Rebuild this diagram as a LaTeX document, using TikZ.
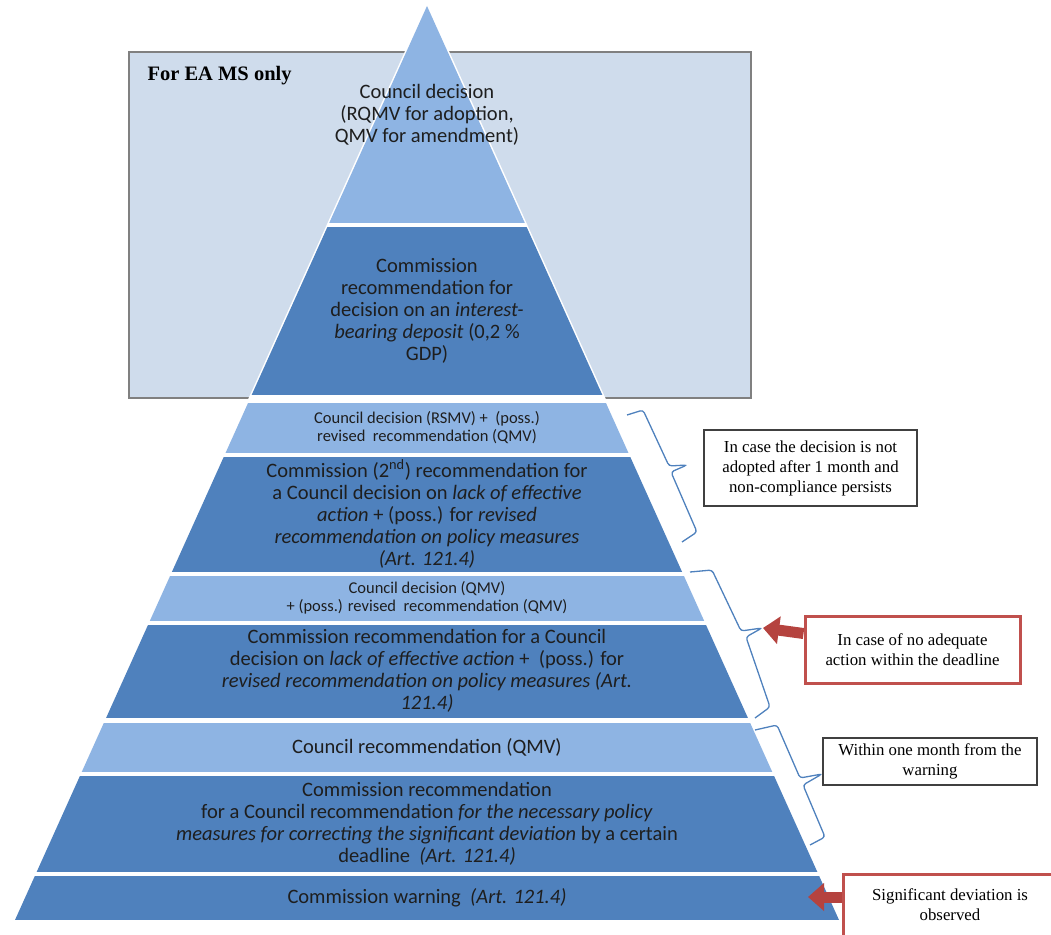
\documentclass[tikz,border=0pt]{standalone}
\usepackage{fontspec}
\setmainfont{Carlito}
\newfontfamily\notefont{Liberation Serif}
\usetikzlibrary{arrows.meta,calc}

\definecolor{tierlight}{HTML}{8EB4E3}
\definecolor{tierdark}{HTML}{4F81BD}
\definecolor{eafill}{HTML}{CFDCEC}
\definecolor{bracecol}{HTML}{4F81BD}
\definecolor{notered}{HTML}{C0504D}
\definecolor{arrowred}{HTML}{B5433F}
\definecolor{textgray}{HTML}{1E1E1E}

\tikzset{
	tiertext/.style={align=center, text=textgray, inner sep=0pt, font=\fontsize{20.5}{22}\selectfont},
	tiersmall/.style={tiertext, font=\fontsize{16.5}{18}\selectfont},
	notebox/.style={draw=black!75, line width=1.2pt, fill=white, align=center, inner sep=0pt,
		font=\notefont\fontsize{16.8}{20}\selectfont},
	alertbox/.style={notebox, draw=notered, line width=3pt},
	bracket/.style={draw=bracecol, line width=1.3pt, rounded corners=3pt},
	alertarrow/.style={draw=arrowred, line width=11pt, -{Triangle[length=16pt,width=27pt]}},
}

\begin{document}
\begin{tikzpicture}[x=1pt,y=-1pt]
			\useasboundingbox (0,0) rectangle (1051,934);
			
			% euro area frame
			\draw[draw=black!50, line width=1.5pt, fill=eafill] (129,52) rectangle (751,398);
			\node[anchor=base west, font=\notefont\bfseries\fontsize{20.5}{22}\selectfont] (ealabel) at (144,80) {For EA MS only};
			
			% pyramid
			\coordinate (apex) at (427,6);
			\coordinate (baseL) at (15,920);
			\coordinate (baseR) at (839,920);
			\draw[white, line width=3pt, fill=white] (apex) -- (baseL) -- (baseR) -- cycle;
			\begin{scope}
				\clip (apex) -- (baseL) -- (baseR) -- cycle;
				\fill[tierlight] (0,0) rectangle (1051,223);
				\fill[tierdark] (0,227) rectangle (1051,395);
				\fill[tierlight] (0,403) rectangle (1051,453);
				\fill[tierdark] (0,457) rectangle (1051,572);
				\fill[tierlight] (0,576) rectangle (1051,621);
				\fill[tierdark] (0,625) rectangle (1051,718);
				\fill[tierlight] (0,723) rectangle (1051,772);
				\fill[tierdark] (0,776) rectangle (1051,872);
				\fill[tierdark] (0,876) rectangle (1051,920);
			\end{scope}
			
			\node[tiertext] (decideEA) at (427,115) {Council decision\\(RQMV for adoption,\\QMV for amendment)};
			\node[tiertext] (recommendEA) at (427,311) {Commission\\recommendation for\\decision on an \textit{interest-}\\\textit{bearing deposit} (0,2 \%\\GDP)};
			\node[tiersmall] (decideLate) at (427,428) {Council decision (RSMV) +~ (poss.)\\revised~ recommendation (QMV)};
			\node[tiertext] (recommendLate) at (427,514) {Commission (2\textsuperscript{nd}) recommendation for\\a Council decision on \textit{lack of effective}\\\textit{action} + (poss.) for \textit{revised}\\\textit{recommendation on policy measures}\\\textit{(Art. 121.4)}};
			\node[tiersmall] (decideQMV) at (427,598) {Council decision (QMV)\\+ (poss.) revised~ recommendation (QMV)};
			\node[tiertext] (recommendLack) at (427,671) {Commission recommendation for a Council\\decision on \textit{lack of effective action} +~ (poss.) for\\\textit{revised recommendation on policy measures (Art.}\\\textit{121.4)}};
			\node[tiertext] (recommendCouncil) at (427,747) {Council recommendation (QMV)};
			\node[tiertext] (recommendMeasures) at (427,824) {Commission recommendation\\for a Council recommendation \textit{for the necessary policy}\\\textit{measures for correcting the significant deviation} by a certain\\deadline~ \textit{(Art. 121.4)}};
			\node[tiertext] (warning) at (427,898) {Commission warning~ \textit{(Art. 121.4)}};
			
			% braces along the right edge
			\draw[bracket] (627,415) -- (643,410) -- (669,466) -- (687,465) -- (671,472) -- (697,532) -- (682,542);
			\draw[bracket] (690,572) -- (712,570) -- (741,631) -- (762,628) -- (746,637) -- (770,707) -- (755,718);
			\draw[bracket] (755,730) -- (777,725) -- (800,778) -- (822,774) -- (803,785) -- (825,837) -- (810,845);
			
			% notes
			\node[notebox, minimum width=213pt, minimum height=76pt] (noteLate) at (810.5,468) {In case the decision is not\\adopted after 1 month and\\non-compliance persists};
			\node[alertbox, minimum width=215pt, minimum height=67pt] (noteAction) at (912.5,649.5) {In case of no adequate\\action within the deadline};
			\node[notebox, minimum width=214pt, minimum height=47pt] (noteMonth) at (930,761.5) {Within one month from the\\warning};
			\node[alertbox, minimum width=214pt, minimum height=62pt] (noteDeviation) at (950,905) {Significant deviation is\\observed};
			
			\coordinate (tipAction) at (763,628);
			\coordinate (tipDeviation) at (808,897);
			\draw[alertarrow] ($(noteAction.west)+(0,-16)$) -- (tipAction);
			\draw[alertarrow] ($(noteDeviation.west)+(0,-8)$) -- (tipDeviation);
\end{tikzpicture}
\end{document}
